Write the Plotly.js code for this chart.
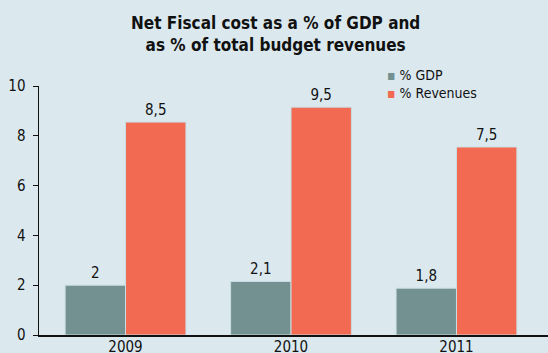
<!DOCTYPE html>
<html><head><meta charset="utf-8">
<script src="https://cdn.plot.ly/plotly-3.0.1.min.js"></script>
<style>html,body{margin:0;padding:0;background:#dbe9ef;}</style>
</head><body><div id="c" style="width:548px;height:353px;"></div>
<script>
const years = ['2009', '2010', '2011'];
const gdpValues = [2.0, 2.15, 1.88];
const gdpLabels = ['2', '2,1', '1,8'];
const revValues = [8.55, 9.15, 7.55];
const revLabels = ['8,5', '9,5', '7,5'];
const seriesNames = ['% GDP', '% Revenues'];
const seriesColors = ['#739191', '#f26a51'];

const font = 'DejaVu Sans Condensed, DejaVu Sans, sans-serif';
const traces = [
  {type:'bar', x:years, y:gdpValues, name:seriesNames[0], text:gdpLabels, textposition:'outside',
   textfont:{family:font,size:15,color:'#111'}, cliponaxis:false, showlegend:false,
   marker:{color:seriesColors[0], line:{color:'#c9dde3', width:1}}},
  {type:'bar', x:years, y:revValues, name:seriesNames[1], text:revLabels, textposition:'outside',
   textfont:{family:font,size:15,color:'#111'}, cliponaxis:false, showlegend:false,
   marker:{color:seriesColors[1], line:{color:'#c9dde3', width:1}}}
];
const legendAnn = seriesNames.map((n, i) => ({
  xref:'paper', yref:'paper', x:(385-39)/509, y:(335-(75+i*17.5))/249,
  xanchor:'left', yanchor:'middle', showarrow:false,
  text:'<span style="color:' + seriesColors[i] + '">▪</span> ' + n,
  font:{family:font, size:14, color:'#111'}
}));
const layout = {
  width:548, height:353,
  paper_bgcolor:'#dbe9ef', plot_bgcolor:'#dbe9ef',
  margin:{l:39, r:0, t:86, b:18},
  font:{family:font, color:'#111'},
  title:{text:'<b>Net Fiscal cost as a % of GDP and<br>as % of total budget revenues</b>',
         font:{family:font, size:17, color:'#111'}, x:0.503, xanchor:'center', y:0.918, yanchor:'top'},
  barmode:'group', bargap:0.27, bargroupgap:0,
  xaxis:{type:'category', range:[-0.523, 2.553], showline:true, linecolor:'#111', linewidth:1.5,
         ticks:'', ticklen:0, tickfont:{size:15}, showgrid:false, zeroline:false,
         ticklabelstandoff:-3},
  yaxis:{range:[0,10], dtick:2, showline:true, linecolor:'#111', linewidth:1.5, ticks:'outside',
         ticklen:5, tickcolor:'#111', tickfont:{size:15}, showgrid:false, zeroline:false,
         ticklabelstandoff:4},
  annotations:legendAnn,
  showlegend:false
};
Plotly.newPlot('c', traces, layout, {staticPlot:true, displayModeBar:false});
</script></body></html>
